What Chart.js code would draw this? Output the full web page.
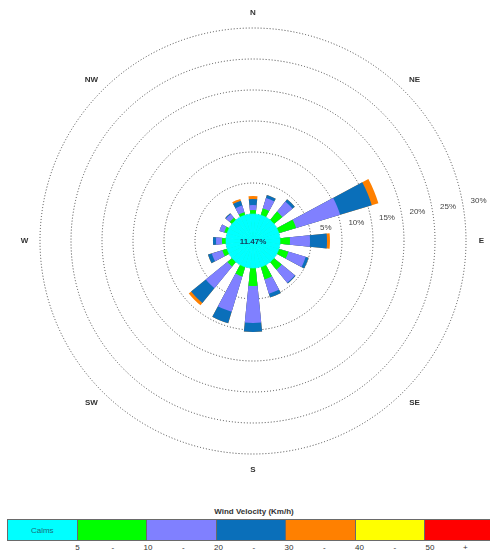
<!DOCTYPE html>
<html>
<head>
<meta charset="utf-8">
<script src="https://cdn.jsdelivr.net/npm/chart.js@4/dist/chart.umd.min.js"></script>
<style>
  html, body { margin: 0; padding: 0; background: #fff; }
  body { font-family: "Liberation Sans", Arial, sans-serif; }
  #page { position: relative; width: 490px; height: 553px; overflow: hidden; }
  #rose { position: absolute; left: 0; top: 0; }
  #legendTitle { position: absolute; left: 7px; width: 494px; top: 507px; text-align: center;
                 font-size: 8px; font-weight: bold; color: #333; }
  #legendBar { position: absolute; left: 7px; top: 519px; height: 22px; display: flex; }
  #legendBar div { width: 70.5px; height: 22px; box-sizing: border-box; border: 1px solid #6a6a6a;
                   margin-right: -1px; display: flex; align-items: center; justify-content: center;
                   font-size: 8px; color: #1b6b78; }
  .tickLbl { position: absolute; top: 543px; font-size: 8px; color: #333; transform: translateX(-50%); }
</style>
</head>
<body>
<div id="page">
  <canvas id="rose" width="490" height="480"></canvas>
  <div id="legendTitle"></div>
  <div id="legendBar"></div>
</div>
<script>
// Sixteen compass sectors, clockwise from north
const directions = ['N', 'NNE', 'NE', 'ENE', 'E', 'ESE', 'SE', 'SSE',
                    'S', 'SSW', 'SW', 'WSW', 'W', 'WNW', 'NW', 'NNW'];
const compassLabels = ['N', 'NE', 'E', 'SE', 'S', 'SW', 'W', 'NW'];

// Frequency (%) of each wind speed class per sector
const calms = 11.47;
const speed5to10  = [0.65, 1.13, 1.77, 2.90, 1.61, 1.61, 1.61, 2.10, 2.90, 1.61, 0.97, 0.81, 0.65, 0.48, 0.48, 0.48];
const speed10to20 = [0.80, 1.77, 2.10, 7.42, 3.23, 2.91, 2.74, 2.42, 5.97, 5.97, 4.51, 1.77, 0.96, 0.81, 0.81, 1.13];
const speed20to30 = [0.97, 0.49, 0.48, 5.33, 2.74, 0.48, 0.16, 0.64, 1.45, 1.94, 3.07, 0.65, 0.49, 0.00, 0.16, 0.81];
const speed30to40 = [0.48, 0.00, 0.00, 1.12, 0.48, 0.00, 0.00, 0.00, 0.00, 0.00, 0.48, 0.00, 0.00, 0.00, 0.00, 0.32];
const speed40to50 = [0, 0, 0, 0, 0, 0, 0, 0, 0, 0, 0, 0, 0, 0, 0, 0];
const speed50plus = [0, 0, 0, 0, 0, 0, 0, 0, 0, 0, 0, 0, 0, 0, 0, 0];

// Frequency rings and legend class breaks
const ringTicks = [5, 10, 15, 20, 25, 30];
const speedBreaks = ['5', '10', '20', '30', '40', '50'];

const CALM_COLOR = '#00FFFF';
const speedClasses = [
  { values: speed5to10,  color: '#00FF00' },
  { values: speed10to20, color: '#8080FF' },
  { values: speed20to30, color: '#0A6FBA' },
  { values: speed30to40, color: '#FF8000' },
  { values: speed40to50, color: '#FFFF00' },
  { values: speed50plus, color: '#FF0000' }
];

// Each sector is a petal followed by an empty gap
const SECTOR = 360 / directions.length;
const PETAL = 11.5;
const GAP = SECTOR - PETAL;

function interleave(vals) {
  const out = [];
  vals.forEach(v => { out.push(v, 0); });
  return out;
}

// Petals are stacked: every class is drawn out to its cumulative frequency
const running = directions.map(() => 0);
const petalSets = speedClasses.map(c => {
  const cum = c.values.map((v, i) => (running[i] += v));
  return { c, cum, used: c.values.some(v => v > 0) };
}).filter(p => p.used);

const datasets = [{
  label: 'Calms',
  data: interleave(directions.map(() => 0)),
  backgroundColor: CALM_COLOR,
  borderColor: CALM_COLOR,
  borderWidth: 0.6,
  angle: ctx => (ctx.dataIndex % 2 ? GAP : PETAL)
}];
petalSets.forEach(p => {
  datasets.push({
    data: interleave(p.cum),
    backgroundColor: ctx => (ctx.dataIndex % 2 ? 'rgba(0,0,0,0)' : p.c.color),
    borderWidth: 0,
    angle: ctx => (ctx.dataIndex % 2 ? GAP : PETAL)
  });
});

// Radial scale: 0 % sits on the rim of the calm disc
const RADIUS = 230;
const CALM_RADIUS = 27;
const PX_PER_PCT = 6.2;
const rMin = -CALM_RADIUS / PX_PER_PCT;
const rMax = (RADIUS - CALM_RADIUS) / PX_PER_PCT;

const roseText = {
  id: 'roseText',
  afterDraw(chart) {
    const s = chart.scales.r;
    const ctx = chart.ctx;
    const cx = s.xCenter, cy = s.yCenter;
    ctx.save();
    ctx.textAlign = 'center';
    ctx.textBaseline = 'middle';

    ctx.font = 'bold 8px "Liberation Sans", Arial, sans-serif';
    ctx.fillStyle = '#333';
    const lr = s.drawingArea - 1.5;
    compassLabels.forEach((t, i) => {
      const a = i * Math.PI / 4;
      ctx.fillText(t, cx + lr * Math.sin(a), cy - lr * Math.cos(a));
    });

    ctx.font = '8px "Liberation Sans", Arial, sans-serif';
    ctx.fillStyle = '#444';
    const ta = 80 * Math.PI / 180;
    ringTicks.forEach(v => {
      const r = s.getDistanceFromCenterForValue(v) + 16;
      ctx.fillText(v + '%', cx + r * Math.sin(ta), cy - r * Math.cos(ta));
    });

    ctx.font = 'bold 8px "Liberation Sans", Arial, sans-serif';
    ctx.fillStyle = '#14385a';
    ctx.fillText(calms.toFixed(2) + '%', cx, cy + 1);
    ctx.restore();
  }
};

new Chart(document.getElementById('rose'), {
  type: 'polarArea',
  data: { labels: interleave(directions), datasets },
  options: {
    responsive: false,
    animation: false,
    devicePixelRatio: 1,
    layout: { padding: { left: 23, right: 7, top: 11, bottom: 9 } },
    plugins: { legend: { display: false }, tooltip: { enabled: false } },
    scales: {
      r: {
        min: rMin,
        max: rMax,
        startAngle: -PETAL / 2,
        angleLines: { display: false },
        pointLabels: { display: false },
        ticks: { display: false },
        grid: { circular: true, color: '#444', lineWidth: 1 },
        border: { dash: [1, 2] },
        afterBuildTicks: scale => {
          scale.ticks = [0].concat(ringTicks).map(v => ({ value: v }));
        }
      }
    }
  },
  plugins: [roseText]
});

// Speed class legend
document.getElementById('legendTitle').textContent = 'Wind Velocity (Km/h)';
const bar = document.getElementById('legendBar');
const BOX = 70.5, LEFT = 7;
[CALM_COLOR].concat(speedClasses.map(c => c.color)).forEach((col, i) => {
  const d = document.createElement('div');
  d.style.background = col;
  if (i === 0) d.textContent = 'Calms';
  bar.appendChild(d);
});
const page = document.getElementById('page');
function addTick(text, x) {
  const t = document.createElement('div');
  t.className = 'tickLbl';
  t.style.left = x + 'px';
  t.textContent = text;
  page.appendChild(t);
}
speedBreaks.forEach((b, i) => {
  addTick(b, LEFT + BOX * (i + 1));
  addTick(i < speedBreaks.length - 1 ? '-' : '+', LEFT + BOX * (i + 1.5));
});
</script>
</body>
</html>
